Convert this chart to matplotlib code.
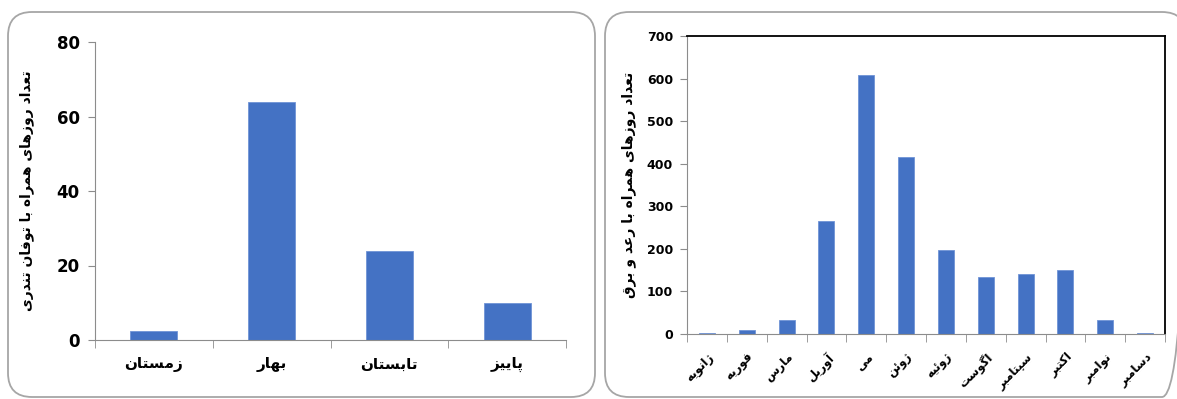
import matplotlib
matplotlib.use("Agg")
import matplotlib.pyplot as plt
from matplotlib.patches import FancyBboxPatch
from matplotlib.ticker import FixedLocator

# data
seasons = ['زمستان', 'بهار', 'تابستان', 'پاییز']
storm_days = [2.5, 64, 24, 10]

months = ['ژانویه', 'فوریه', 'مارس', 'آوریل', 'می', 'ژوئن', 'ژوئیه',
          'اگوست', 'سپتامبر', 'اکتبر', 'نوامبر', 'دسامبر']
thunder_days = [3, 10, 33, 265, 608, 415, 198, 135, 142, 150, 33, 3]

ylab_left = 'تعداد روزهای همراه با توفان تندری'
ylab_right = 'تعداد روزهای همراه با رعد و برق'

# simple arabic/persian shaping: (isolated, final, initial, medial)
FORMS = {
    'ا': ('\uFE8D', '\uFE8E', None, None),
    'آ': ('\uFE81', '\uFE82', None, None),
    'ب': ('\uFE8F', '\uFE90', '\uFE91', '\uFE92'),
    'پ': ('\uFB56', '\uFB57', '\uFB58', '\uFB59'),
    'ت': ('\uFE95', '\uFE96', '\uFE97', '\uFE98'),
    'د': ('\uFEA9', '\uFEAA', None, None),
    'ر': ('\uFEAD', '\uFEAE', None, None),
    'ز': ('\uFEAF', '\uFEB0', None, None),
    'ژ': ('\u0698', '\uFB8B', None, None),
    'س': ('\uFEB1', '\uFEB2', '\uFEB3', '\uFEB4'),
    'ع': ('\uFEC9', '\uFECA', '\uFECB', '\uFECC'),
    'ف': ('\uFED1', '\uFED2', '\uFED3', '\uFED4'),
    'ق': ('\uFED5', '\uFED6', '\uFED7', '\uFED8'),
    'ک': ('\uFB8E', '\uFB8F', '\uFB90', '\uFB91'),
    'گ': ('\uFB92', '\uFB93', '\uFB94', '\uFB95'),
    'ل': ('\uFEDD', '\uFEDE', '\uFEDF', '\uFEE0'),
    'م': ('\uFEE1', '\uFEE2', '\uFEE3', '\uFEE4'),
    'ن': ('\uFEE5', '\uFEE6', '\uFEE7', '\uFEE8'),
    'ه': ('\uFEE9', '\uFEEA', '\uFEEB', '\uFEEC'),
    'و': ('\uFEED', '\uFEEE', None, None),
    'ی': ('\uFBFC', '\uFBFD', '\uFBFE', '\uFBFF'),
    'ئ': ('\uFE89', '\uFE8A', '\uFE8B', '\uFE8C'),
}


def shape(s):
    out = []
    for i, c in enumerate(s):
        if c not in FORMS:
            out.append(c)
            continue
        prev = s[i - 1] if i > 0 else ''
        nxt = s[i + 1] if i + 1 < len(s) else ''
        jp = prev in FORMS and FORMS[prev][2] is not None
        jn = FORMS[c][2] is not None and nxt in FORMS
        f = FORMS[c]
        if jp and jn:
            out.append(f[3])
        elif jp:
            out.append(f[1])
        elif jn:
            out.append(f[2])
        else:
            out.append(f[0])
    return ''.join(reversed(out))


plt.rcParams['font.family'] = ['DejaVu Sans', 'Noto Sans']
bar_color = '#4472C4'
axis_gray = '#8c8c8c'

fig = plt.figure(figsize=(11.77, 3.99), dpi=100)
W, H = 1177, 399

# background axes in pixel units for the rounded frames
bg = fig.add_axes([0, 0, 1, 1])
bg.set_xlim(0, W)
bg.set_ylim(H, 0)
bg.axis('off')
for x0, x1 in [(8, 595), (605, 1186)]:
    bg.add_patch(FancyBboxPatch((x0, 12), x1 - x0, 397 - 12,
                                boxstyle="round,pad=0,rounding_size=24",
                                fill=False, edgecolor='#a6a6a6', linewidth=1.3))

# left chart
ax1 = fig.add_axes([95 / W, (H - 340) / H, 471 / W, 298 / H])
x = range(len(seasons))
ax1.bar(x, storm_days, width=0.4, color=bar_color, edgecolor='#6f93d6', linewidth=0.6)
ax1.set_xlim(-0.5, len(seasons) - 0.5)
ax1.set_ylim(0, 80)
ax1.set_yticks([0, 20, 40, 60, 80])
ax1.set_xticks(list(x))
ax1.set_xticklabels([shape(s) for s in seasons], fontsize=11, fontweight='bold')
ax1.xaxis.set_minor_locator(FixedLocator([i - 0.5 for i in range(len(seasons) + 1)]))
ax1.tick_params(axis='x', which='major', length=0, pad=12)
ax1.tick_params(axis='x', which='minor', length=6, color=axis_gray, direction='out')
ax1.tick_params(axis='y', length=5, color=axis_gray, labelsize=12, pad=6)
for t in ax1.get_yticklabels():
    t.set_fontweight('bold')
ax1.spines['top'].set_visible(False)
ax1.spines['right'].set_visible(False)
ax1.spines['left'].set_color(axis_gray)
ax1.spines['bottom'].set_color(axis_gray)
ax1.set_ylabel(shape(ylab_left), fontsize=10, fontweight='bold', labelpad=16)

# right chart
ax2 = fig.add_axes([687 / W, (H - 334) / H, 478 / W, 298 / H])
x2 = range(len(months))
ax2.bar(x2, thunder_days, width=0.4, color=bar_color, edgecolor='#6f93d6', linewidth=0.6)
ax2.set_xlim(-0.5, len(months) - 0.5)
ax2.set_ylim(0, 700)
ax2.set_yticks(range(0, 701, 100))
ax2.set_xticks(list(x2))
ax2.set_xticklabels([shape(m) for m in months], fontsize=8.5, fontweight='bold',
                    rotation=45, ha='right', rotation_mode='anchor')
ax2.xaxis.set_minor_locator(FixedLocator([i - 0.5 for i in range(len(months) + 1)]))
ax2.tick_params(axis='x', which='major', length=0, pad=12)
ax2.tick_params(axis='x', which='minor', length=6, color=axis_gray, direction='out')
ax2.tick_params(axis='y', length=5, color=axis_gray, labelsize=9, pad=5)
for t in ax2.get_yticklabels():
    t.set_fontweight('bold')
ax2.spines['top'].set_color('black')
ax2.spines['right'].set_color('black')
ax2.spines['top'].set_linewidth(1.3)
ax2.spines['right'].set_linewidth(1.3)
ax2.spines['left'].set_color(axis_gray)
ax2.spines['bottom'].set_color(axis_gray)
ax2.set_ylabel(shape(ylab_right), fontsize=10, fontweight='bold', labelpad=8)

fig.savefig('out.png', dpi=100)
